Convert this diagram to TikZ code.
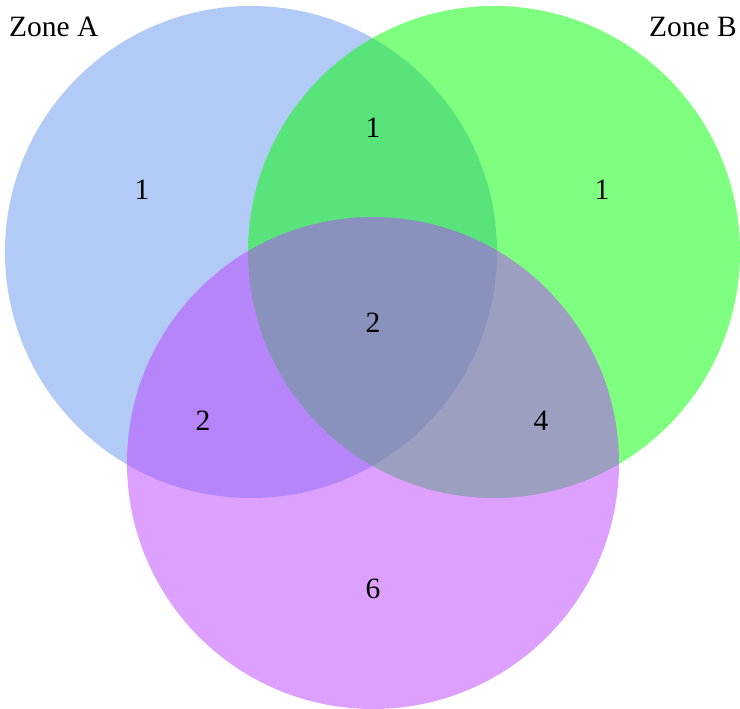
\documentclass[tikz,border=0pt]{standalone}
\usepackage{fontspec}
\setmainfont{Liberation Serif}
\usepackage{tikz}
\usepackage{xcolor}

\definecolor{zoneA}{RGB}{100,149,237}
\definecolor{zoneB}{RGB}{0,255,0}
\definecolor{zoneC}{RGB}{187,65,255}

\begin{document}
\begin{tikzpicture}[x=1pt,y=-1pt,
    lbl/.style={font=\fontsize{29.5}{34}\selectfont,inner sep=0pt}]
      \useasboundingbox (0,0) rectangle (740,709);
      \fill[zoneA,opacity=0.5] (251,252) circle (246pt);
      \fill[zoneB,opacity=0.5] (494,252) circle (246pt);
      \fill[zoneC,opacity=0.5] (373,463) circle (246pt);
      \node[lbl,anchor=base west] (zA) at (9,37) {Zone A};
      \node[lbl,anchor=base east] (zB) at (737,37) {Zone B};
      \node[lbl] (onlyA) at (142,190) {1};
      \node[lbl] (AB) at (373,128) {1};
      \node[lbl] (onlyB) at (602,190) {1};
      \node[lbl] (ABC) at (373,323) {2};
      \node[lbl] (AC) at (203,421) {2};
      \node[lbl] (BC) at (541,421) {4};
      \node[lbl] (onlyC) at (373,589) {6};
    \end{tikzpicture}
\end{document}
